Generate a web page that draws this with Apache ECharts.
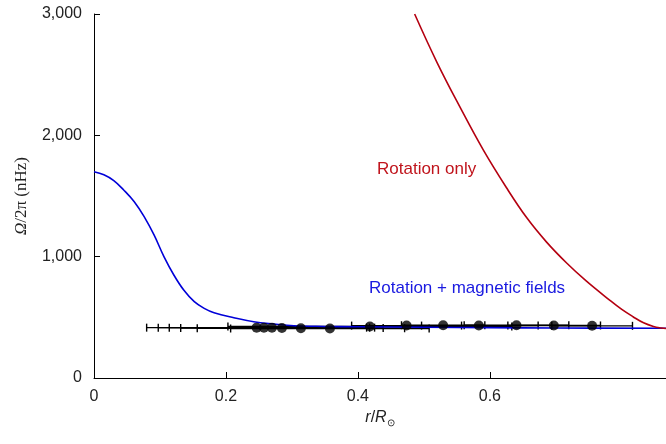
<!DOCTYPE html>
<html>
<head>
<meta charset="utf-8">
<script src="https://cdn.jsdelivr.net/npm/echarts@6/dist/echarts.min.js"></script>
<style>
  html, body { margin: 0; padding: 0; background: #fff; }
  #chart { width: 666px; height: 444px; }
</style>
</head>
<body>
<div id="chart"></div>
<script>
// model curves [r/R, Omega/2pi nHz]
const magneticCurve = [
  [0, 1700], [0.015, 1675], [0.03, 1627], [0.045, 1550], [0.061, 1453],
  [0.076, 1330], [0.091, 1179], [0.106, 1000], [0.121, 849], [0.136, 725],
  [0.152, 629], [0.167, 574], [0.182, 538], [0.212, 497], [0.242, 464],
  [0.273, 445], [0.303, 431], [0.35, 425], [0.4, 422], [0.5, 418],
  [0.6, 415], [0.7, 412], [0.867, 410]
];
const rotationCurve = [
  [0.486, 3000], [0.52, 2600], [0.555, 2230], [0.59, 1880], [0.625, 1570],
  [0.656, 1320], [0.686, 1120], [0.716, 950], [0.746, 800], [0.782, 640],
  [0.8, 565], [0.817, 505], [0.833, 455], [0.848, 425], [0.86, 412], [0.867, 408]
];
// measured points with horizontal error bars
const obsR = [0.2465, 0.2576, 0.2697, 0.2848, 0.3136, 0.3576, 0.4182, 0.4738, 0.5292, 0.5833, 0.6404, 0.697, 0.755];
const obsOmega = [415, 415, 415, 412, 410, 408, 425, 432, 435, 432, 435, 433, 430];
const obsRLow = [0.0798, 0.0974, 0.1141, 0.1314, 0.1565, 0.2071, 0.203, 0.3905, 0.4661, 0.4965, 0.5611, 0.6273, 0.6939];
const obsRHigh = [0.4132, 0.4177, 0.4253, 0.4383, 0.4708, 0.508, 0.6333, 0.5571, 0.5924, 0.6732, 0.7197, 0.7677, 0.8162];
const xTicks = [0, 0.2, 0.4, 0.6];
const yTicks = [0, 1000, 2000, 3000];

const points = obsR.map((r, i) => [r, obsOmega[i]]);
const bars = obsR.map((r, i) => [obsRLow[i], obsRHigh[i], obsOmega[i]]);

const chart = echarts.init(document.getElementById('chart'));
const font = 'Liberation Sans, Arial, sans-serif';
const serif = 'Liberation Serif, Times New Roman, serif';

chart.setOption({
  animation: false,
  grid: { left: 94, right: 0, top: 14, bottom: 66 },
  xAxis: {
    type: 'value',
    min: 0,
    max: 0.867,
    axisLine: { lineStyle: { color: '#000', width: 1 } },
    axisTick: { inside: true, length: 6, customValues: xTicks, lineStyle: { color: '#000' } },
    axisLabel: {
      customValues: xTicks, margin: 11, color: '#222', fontSize: 16, fontFamily: font,
      formatter: v => v === 0 ? '0' : String(v)
    },
    splitLine: { show: false },
    name: '{i|r}/{i|R}{s|⊙}',
    nameLocation: 'middle',
    nameGap: 24,
    nameTextStyle: {
      color: '#222', fontSize: 16, fontFamily: font,
      rich: {
        i: { fontStyle: 'italic', fontSize: 16, fontFamily: font, color: '#222' },
        s: { fontSize: 10, fontFamily: font, color: '#222', verticalAlign: 'bottom', padding: [10, 0, 0, 0] }
      }
    }
  },
  yAxis: {
    type: 'value',
    min: 0,
    max: 3000,
    interval: 1000,
    axisLine: { show: true, lineStyle: { color: '#000', width: 1 } },
    axisTick: { show: true, inside: true, length: 6, customValues: yTicks, lineStyle: { color: '#000' } },
    axisLabel: {
      customValues: yTicks, margin: 12, color: '#222', fontSize: 16, fontFamily: font,
      formatter: v => v.toLocaleString('en-US')
    },
    splitLine: { show: false },
    name: '{i|Ω}/2π (nHz)',
    nameLocation: 'middle',
    nameRotate: 90,
    nameGap: 64,
    nameTextStyle: {
      color: '#222', fontSize: 17, fontFamily: serif,
      rich: {
        i: { fontStyle: 'italic', fontSize: 17, fontFamily: serif, color: '#222' }
      }
    }
  },
  graphic: [
    { type: 'text', left: 377, top: 161, style: { text: 'Rotation only', fill: '#c0141c', font: '17px ' + font } },
    { type: 'text', left: 369, top: 280, style: { text: 'Rotation + magnetic fields', fill: '#1a1ae0', font: '17px ' + font } }
  ],
  series: [
    {
      name: 'errorbars',
      type: 'custom',
      z: 2,
      data: bars,
      renderItem: function (params, api) {
        const lo = api.coord([api.value(0), api.value(2)]);
        const hi = api.coord([api.value(1), api.value(2)]);
        const h = 4;
        const st = { stroke: '#000', lineWidth: 1.4 };
        return {
          type: 'group',
          children: [
            { type: 'line', shape: { x1: lo[0], y1: lo[1], x2: hi[0], y2: hi[1] }, style: st },
            { type: 'line', shape: { x1: lo[0], y1: lo[1] - h, x2: lo[0], y2: lo[1] + h }, style: st },
            { type: 'line', shape: { x1: hi[0], y1: hi[1] - h, x2: hi[0], y2: hi[1] + h }, style: st }
          ]
        };
      }
    },
    {
      name: 'Rotation + magnetic fields',
      type: 'line',
      z: 3,
      data: magneticCurve,
      symbol: 'none',
      smooth: 0.4,
      lineStyle: { color: '#0000d8', width: 1.6 }
    },
    {
      name: 'Rotation only',
      type: 'line',
      z: 3,
      data: rotationCurve,
      symbol: 'none',
      smooth: 0.4,
      lineStyle: { color: '#b40010', width: 1.6 }
    },
    {
      name: 'observed',
      type: 'scatter',
      z: 4,
      data: points,
      symbolSize: 10,
      itemStyle: { color: '#000' }
    }
  ]
});
</script>
</body>
</html>
